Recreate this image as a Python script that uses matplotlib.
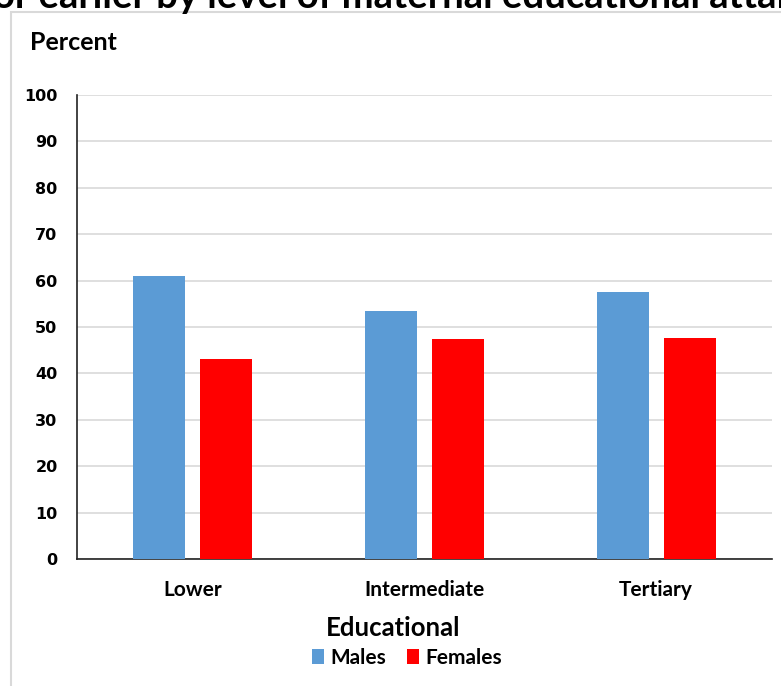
import matplotlib
matplotlib.use("Agg")
import matplotlib.pyplot as plt
from matplotlib.patches import Rectangle
import numpy as np

categories = ["Lower", "Intermediate", "Tertiary"]
males = [61.0, 53.4, 57.5]
females = [43.0, 47.5, 47.6]
yticks = [0, 10, 20, 30, 40, 50, 60, 70, 80, 90, 100]

W, H = 781, 686
fig = plt.figure(figsize=(W / 100, H / 100), dpi=100)
fam = ["Lato", "DejaVu Sans"]

# chart frame
fig.patches.append(Rectangle((11 / W, -0.1), 2, (H - 12) / H + 0.1, transform=fig.transFigure,
                             fill=False, edgecolor="#d9d9d9", linewidth=1.5))

# title line, running off the top of the canvas
fig.text(390 / W, 1 - 8 / H, "or earlier by level of maternal educational attai",
         ha="center", va="baseline", fontsize=27.5, fontweight="bold", family=fam, color="black")

ax = fig.add_axes([77 / W, 1 - 559 / H, (772 - 77) / W, (559 - 95) / H])
x = np.arange(len(categories))
bw = 0.225
off = 0.145
ax.bar(x - off, males, bw, color="#5b9bd5", label="Males", zorder=3)
ax.bar(x + off, females, bw, color="#ff0000", label="Females", zorder=3)

ax.set_xlim(-0.5, len(categories) - 0.5)
ax.set_ylim(0, 100)
ax.set_yticks(yticks)
ax.set_yticklabels([str(v) for v in yticks], fontsize=11.5, fontweight="bold",
                   family=["DejaVu Sans"])
ax.set_xticks(x)
ax.set_xticklabels(categories, fontsize=15, fontweight="bold", family=fam)
ax.tick_params(axis="both", length=0)
ax.tick_params(axis="y", pad=14)
ax.tick_params(axis="x", pad=15)
ax.grid(axis="y", color="#d9d9d9", linewidth=1.2, zorder=0)
for s in ["top", "right"]:
    ax.spines[s].set_visible(False)
ax.spines["left"].set_color("#222222")
ax.spines["bottom"].set_color("#222222")
ax.spines["left"].set_linewidth(1.2)
ax.spines["bottom"].set_linewidth(1.2)

fig.text(30 / W, 1 - 43 / H, "Percent", ha="left", va="center", fontsize=18,
         fontweight="bold", family=fam)
fig.text(393 / W, 1 - 628 / H, "Educational", ha="center", va="center", fontsize=18.5,
         fontweight="bold", family=fam)

fig.legend(loc="center", bbox_to_anchor=(407 / W, 1 - 658 / H), ncol=2, frameon=False,
           prop={"family": fam, "weight": "bold", "size": 15},
           handlelength=0.6, handleheight=0.7, handletextpad=0.3, columnspacing=1.0)

fig.savefig("out.png", dpi=100)
